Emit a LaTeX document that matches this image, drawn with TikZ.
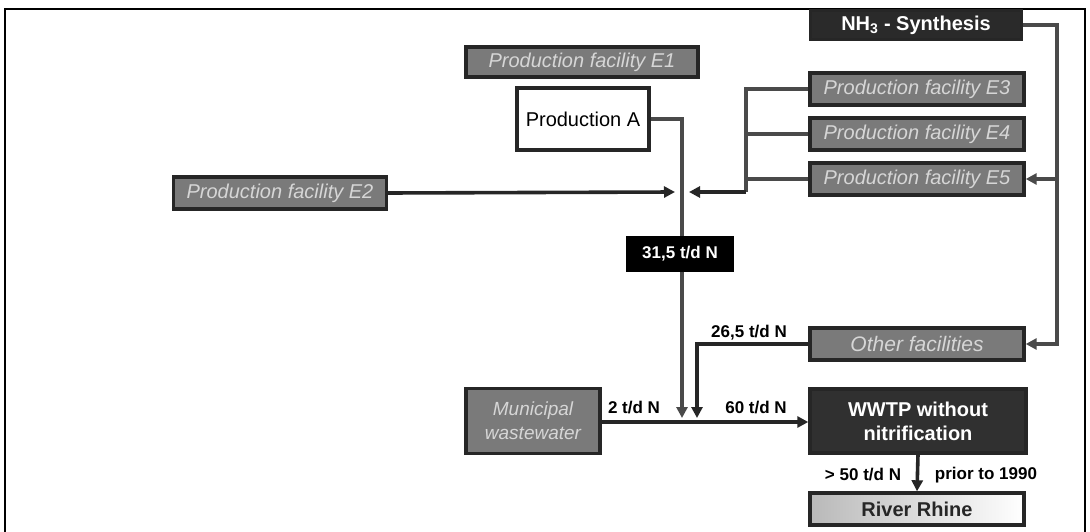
\documentclass[tikz,border=0pt]{standalone}
\usepackage{fontspec}
\setmainfont{Liberation Sans}
\usetikzlibrary{arrows.meta}
\definecolor{boxgray}{HTML}{7A7A7A}
\definecolor{txtgray}{HTML}{D6D6D6}
\definecolor{edgec}{HTML}{262626}
\definecolor{linegray}{HTML}{4A4A4A}
\definecolor{nhfill}{HTML}{2A2A2A}
\definecolor{wwfill}{HTML}{303030}
\begin{document}
\begin{tikzpicture}[x=1pt,y=-1pt,
  base/.style={draw=edgec,line width=3.4pt,inner sep=0pt,align=center},
  graybox/.style={base,fill=boxgray,text=txtgray,font=\fontsize{20}{23}\selectfont\itshape},
  darkbox/.style={base,fill=#1,text=white,font=\fontsize{20}{24}\selectfont\bfseries},
  flow/.style={draw=edgec,line width=3.6pt},
  gflow/.style={draw=linegray,line width=3.6pt},
  tip/.style={-{Triangle[length=11pt,width=11pt]}},
  lbl/.style={font=\fontsize{17}{20}\selectfont\bfseries,text=black,inner sep=0pt}
]
\useasboundingbox (0,0) rectangle (1090,532);
\fill[white] (0,0) rectangle (1090,532);
\draw[line width=2pt,black] (5,545) -- (5,9) -- (1085,9) -- (1085,545);

% boxes
\node[darkbox=nhfill,minimum width=211pt,minimum height=29pt] (nh) at (916,25) {NH\textsubscript{3} - Synthesis};
\node[graybox,minimum width=232pt,minimum height=30pt] (e1) at (582,62) {Production facility E1};
\node[base,fill=white,minimum width=132pt,minimum height=62pt,font=\fontsize{20}{24}\selectfont] (pa) at (583,119) {Production A};
\node[graybox,minimum width=214pt,minimum height=32pt] (e3) at (917,89) {Production facility E3};
\node[graybox,minimum width=214pt,minimum height=32pt] (e4) at (917,134) {Production facility E4};
\node[graybox,minimum width=214pt,minimum height=32pt] (e5) at (917,179) {Production facility E5};
\node[graybox,minimum width=213pt,minimum height=32pt] (e2) at (280,193) {Production facility E2};
\node[graybox,minimum width=214pt,minimum height=32pt,font=\fontsize{21}{24}\selectfont\itshape] (oth) at (917,344) {Other facilities};
\node[graybox,minimum width=134pt,minimum height=65pt,font=\fontsize{19}{24}\selectfont\itshape] (mun) at (533,421) {Municipal\\wastewater};
\node[darkbox=wwfill,minimum width=216pt,minimum height=64pt] (ww) at (918,421) {WWTP without\\nitrification};
\node[base,left color=gray!55,right color=white,minimum width=214pt,minimum height=32pt,font=\fontsize{20}{24}\selectfont\bfseries,text=black!85] (rh) at (917,509) {River Rhine};

% junction coordinates
\coordinate (vAend) at (682,418);
\coordinate (jE) at (746,192);
\coordinate (jEtop) at (746,89);
\coordinate (e2tip) at (675,192);
\coordinate (jtip) at (689,192);
\coordinate (nhr) at (1057,25);
\coordinate (othend) at (697,418);

% Production A down to main line
\draw[gflow,tip] (pa.east) -| (vAend);
% E2 to junction
\draw[flow,tip] (e2.east) -- (e2tip);
% E3/E4/E5 collector
\draw[gflow] (e3.west) -- (jEtop) -- (jE);
\draw[gflow] (e4.west) -- (jE |- e4.west);
\draw[gflow] (e5.west) -- (jE |- e5.west);
\draw[flow,tip] (jE) -- (jtip);
% NH3 synthesis feed
\draw[gflow,tip] (nh.east) -| (nhr |- e5.east) -- (e5.east);
\draw[gflow,tip] (nhr |- e5.east) |- (oth.east);
% other facilities
\draw[flow,tip] (oth.west) -| (othend);
% municipal to WWTP
\draw[flow,tip] (mun.east |- 0,422) -- (ww.west |- 0,422);
% WWTP to river
\draw[flow,tip] (ww.south) -- (rh.north);

% flow box on the line
\node[base,draw=black,fill=black,text=white,minimum width=105pt,minimum height=33pt,font=\fontsize{17}{20}\selectfont\bfseries] (n31) at (680,254) {31,5 t/d N};

% labels
\node[lbl] (l2) at (634,408) {2 t/d N};
\node[lbl] (l60) at (756,408) {60 t/d N};
\node[lbl] (l26) at (749,333) {26,5 t/d N};
\node[lbl] (l50) at (863,475) {> 50 t/d N};
\node[lbl] (lpr) at (986,475) {prior to 1990};
\end{tikzpicture}
\end{document}
